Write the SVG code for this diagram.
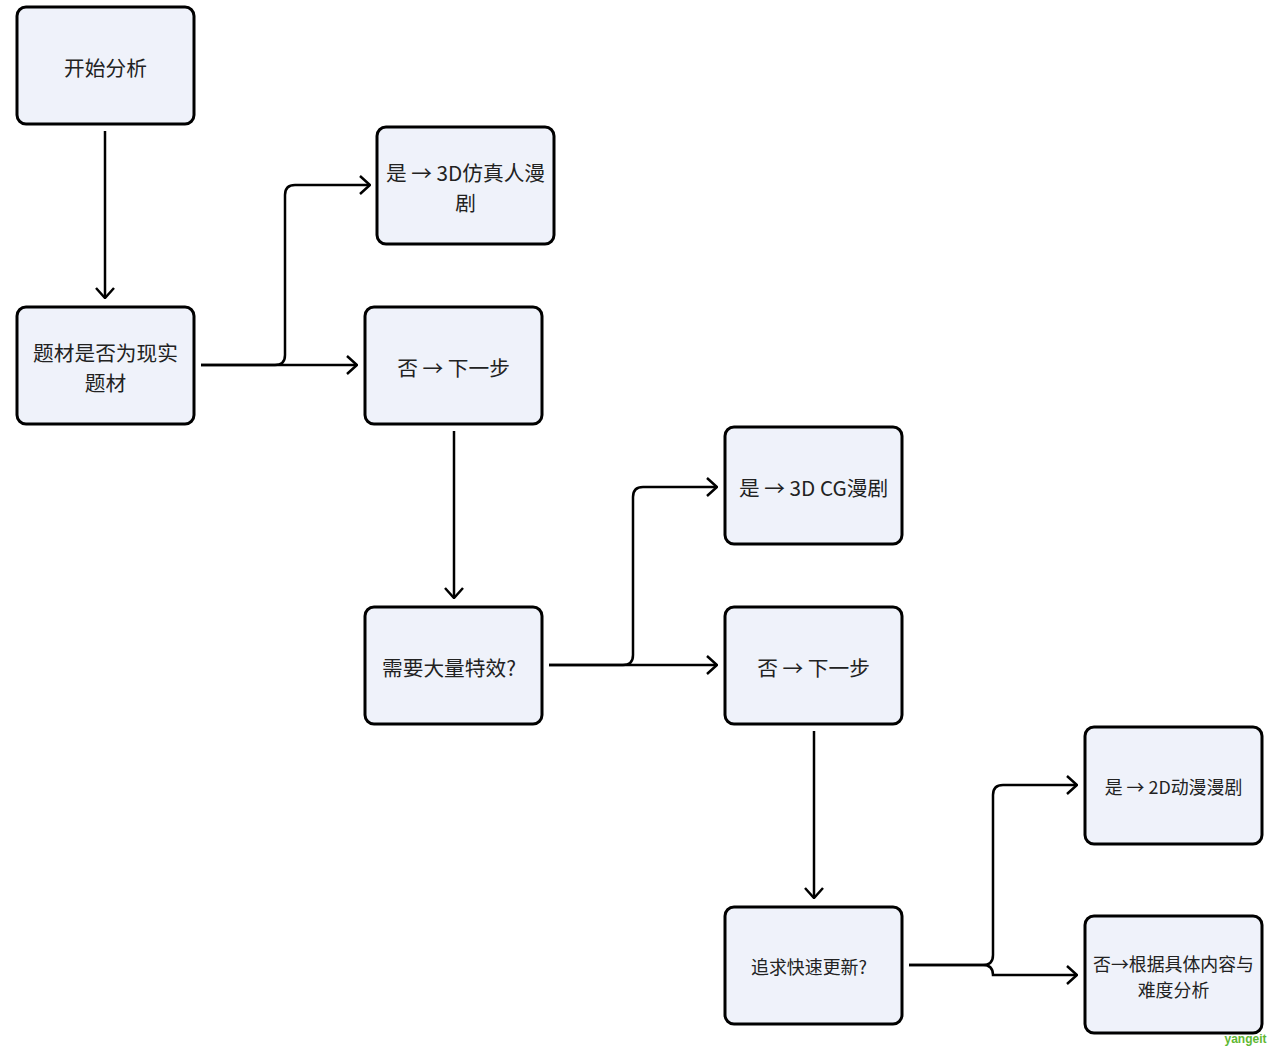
<svg xmlns="http://www.w3.org/2000/svg" width="1278" height="1055" viewBox="0 0 1278 1055">
<style>
.n rect{fill:#eff2fa;stroke:#000;stroke-width:3}
.n text{font-family:"Noto Sans CJK SC","Noto Sans",sans-serif;font-size:20.7px;fill:#222;text-anchor:middle;dominant-baseline:central}
.n text.s{font-size:17.9px}
.c path{fill:none;stroke:#000;stroke-width:2.5}
</style>
<defs>
<marker id="a" viewBox="0 0 12 20" refX="11" refY="10" markerWidth="12" markerHeight="20" markerUnits="userSpaceOnUse" orient="auto">
<path d="M1,1 L11,10 L1,19" fill="none" stroke="#000" stroke-width="2.5"/>
</marker>
</defs>
<rect width="1278" height="1055" fill="#fff"/>
<g class="c">
<path d="M105,131 V298" marker-end="url(#a)"/>
<path d="M201,365 H357" marker-end="url(#a)"/>
<path d="M201,365 H275 Q285,365 285,355 V195 Q285,185 295,185 H370" marker-end="url(#a)"/>
<path d="M454,431 V598" marker-end="url(#a)"/>
<path d="M549,665 H717" marker-end="url(#a)"/>
<path d="M549,665 H623 Q633,665 633,655 V497 Q633,487 643,487 H717" marker-end="url(#a)"/>
<path d="M814,731 V898" marker-end="url(#a)"/>
<path d="M909,965 H983 Q993,965 993,955 V795 Q993,785 1003,785 H1077" marker-end="url(#a)"/>
<path d="M909,965 H983 Q993,965 993,975 H1077" marker-end="url(#a)"/>
</g>
<g id="n1" class="n"><rect x="17" y="7" width="177" height="117" rx="9"/><text x="105.5" y="67">开始分析</text></g>
<g id="n2" class="n"><rect x="17" y="307" width="177" height="117" rx="9"/><text x="105.5" y="352">题材是否为现实</text><text x="105.5" y="382">题材</text></g>
<g id="n3" class="n"><rect x="377" y="127" width="177" height="117" rx="9"/><text x="465.5" y="172">是 → 3D仿真人漫</text><text x="465.5" y="202">剧</text></g>
<g id="n4" class="n"><rect x="365" y="307" width="177" height="117" rx="9"/><text x="453.5" y="367">否 → 下一步</text></g>
<g id="n5" class="n"><rect x="365" y="607" width="177" height="117" rx="9"/><text x="449" y="667">需要大量特效?</text></g>
<g id="n6" class="n"><rect x="725" y="427" width="177" height="117" rx="9"/><text x="813.5" y="487">是 → 3D CG漫剧</text></g>
<g id="n7" class="n"><rect x="725" y="607" width="177" height="117" rx="9"/><text x="813.5" y="667">否 → 下一步</text></g>
<g id="n8" class="n"><rect x="1085" y="727" width="177" height="117" rx="9"/><text class="s" x="1173.5" y="786">是 → 2D动漫漫剧</text></g>
<g id="n9" class="n"><rect x="725" y="907" width="177" height="117" rx="9"/><text class="s" x="809" y="966">追求快速更新?</text></g>
<g id="n10" class="n"><rect x="1085" y="916" width="177" height="117" rx="9"/><text class="s" x="1173.5" y="963">否→根据具体内容与</text><text class="s" x="1173.5" y="989">难度分析</text></g>
<text x="1245.5" y="1043" font-family="Liberation Sans,sans-serif" font-size="12" font-weight="bold" fill="#5fb833" text-anchor="middle">yangeit</text>
</svg>
